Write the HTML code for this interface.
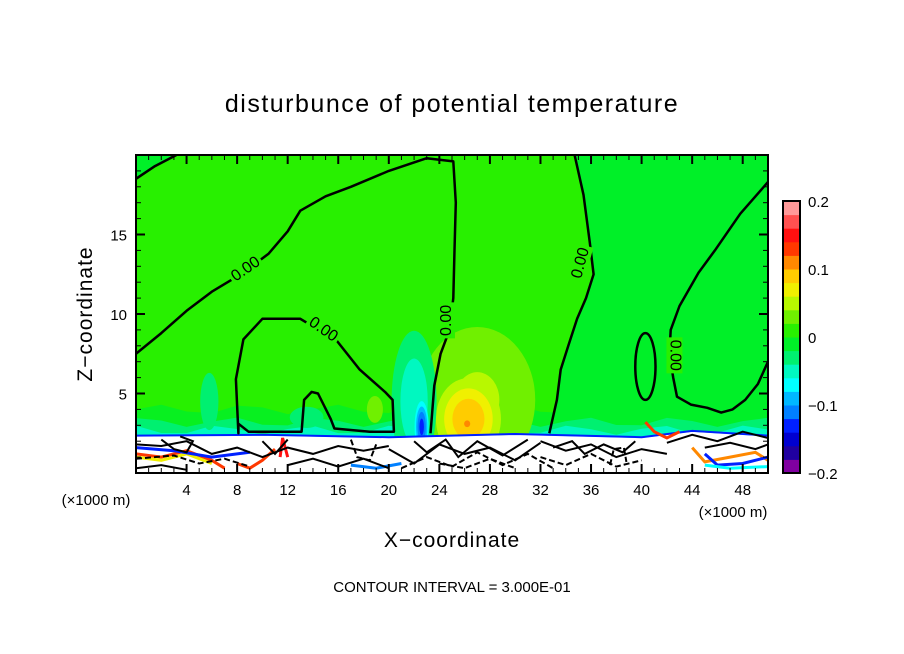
<!DOCTYPE html>
<html><head><meta charset="utf-8">
<style>
html,body{margin:0;padding:0;background:#fff;}
svg{display:block;font-family:"Liberation Sans",sans-serif;}
</style></head>
<body>
<svg id="chart" width="904" height="654" viewBox="0 0 904 654">
<defs><clipPath id="plotclip"><rect x="136" y="155" width="632" height="318"/></clipPath>
<clipPath id="aboveclip"><rect x="136" y="155" width="632" height="283"/></clipPath></defs>
<text x="452" y="112" text-anchor="middle" font-size="25" letter-spacing="1.5">disturbunce of potential temperature</text>
<g id="plot" clip-path="url(#plotclip)"></g>
<rect x="136" y="155" width="632" height="318" fill="none" stroke="#000" stroke-width="2"/>
<g id="axes"></g>
<g id="cbar"></g>
<text transform="translate(92,314) rotate(-90)" text-anchor="middle" font-size="21" letter-spacing="1">Z−coordinate</text>
<text x="452" y="547" text-anchor="middle" font-size="21" letter-spacing="1">X−coordinate</text>
<text x="96" y="505" text-anchor="middle" font-size="15">(×1000 m)</text>
<text x="733" y="517" text-anchor="middle" font-size="15">(×1000 m)</text>
<text x="452" y="592" text-anchor="middle" font-size="15">CONTOUR INTERVAL = 3.000E-01</text>
</svg>
<script>
const xTicks=[4,8,12,16,20,24,28,32,36,40,44,48];
const zTicks=[5,10,15];
const cbTicks=[0.2,0.1,0,-0.1,-0.2];
const cbLabels=["0.2","0.1","0","−0.1","−0.2"];
const levelColors=["#8000a0","#2000a0","#0000d0","#0020ff","#0080ff","#00b8ff","#00ffff","#00f8c0","#00f070","#00f028","#28f000","#70f000","#b8f800","#f0f000","#ffcc00","#ff8800","#ff3800","#ff1010","#ff5050","#ff9999"];
// anomaly blobs: x, z, amplitude, rx, rz, minimum drawn level magnitude
const blobX=[27.0,26.3,26.2,22.0,22.6,18.9,5.8,13.5,30.5];
const blobZ=[4.6,3.4,3.1,4.5,2.9,4.0,4.5,3.5,3.5];
const blobAmp=[0.045,0.1,0.12,-0.06,-0.13,0.035,-0.03,-0.025,0.03];
const blobRX=[3.6,1.9,0.4,1.2,0.45,0.6,0.8,2.0,1.0];
const blobRZ=[3.6,1.9,0.35,3.0,1.3,0.8,2.0,1.0,1.0];
const blobMin=[0.02,0.04,0.1,0.02,0.06,0.02,0.02,0.02,0.02];
// zero-contours (x, z) in data units
const contourA=[[0,7.5],[2,8.8],[4,10.2],[6,11.4],[8.5,12.6],[10.5,13.8],[12,15.2],[13,16.5],[15,17.4],[17,18],[20,19],[23,19.8],[25.1,19.6],[25.3,17],[25.2,14],[25.1,11],[24.8,9],[24.1,7.5],[23.6,5.5],[23.4,3.5],[23.3,2.5]];
const contourB=[[0,18.5],[1.5,19.3],[3.2,20]];
const contourC=[[8.1,2.5],[7.9,5.9],[8.5,8.4],[10,9.7],[13,9.7],[15.9,8.3],[17.7,6.5],[19.7,5.1],[20.3,4.6],[20.4,2.6],[18.5,2.6],[15.7,2.8],[15.4,3.4],[14.4,5.0],[13.9,5.1],[13.3,4.6],[13.1,2.6],[11.2,2.6],[8.9,2.6],[8.1,3.1]];
const contourD=[[34.7,20],[35.4,17.5],[35.9,14.5],[36.2,12.5],[35.6,11],[34.9,9.7],[34.2,8],[33.6,6.5],[33.3,4.6],[32.7,2.5]];
const contourE=[[50,18.3],[47.8,16.3],[45.8,14],[44.5,12.6],[43,10.5],[42.3,9],[42.2,7.5],[42.5,6],[42.8,4.8],[43.9,4.3],[45.2,4.1],[46.3,3.8],[47.2,4.0],[48.2,4.6],[49.2,5.6],[50,7]];
const ellipseF=[40.3,6.7,0.8,2.1];
const lowLines=[
 [[0,1.8],[2,1.7],[4,2.0],[6,1.2],[8,1.6],[10,1.0],[12,1.6],[14,1.2],[16,1.7],[18,1.4],[20,1.7]],
 [[0,0.9],[3,1.1],[5,0.6],[7,0.9],[9,0.4]],
 [[20,1.5],[22,0.6],[24,1.8],[26,1.2],[28,1.6],[30,0.8],[32,1.9]],
 [[32,2.0],[34,1.4],[36,1.8],[38,1.0],[40,1.5],[42,1.2]],
 [[32,1.0],[34,0.5],[36,1.2],[38,0.4],[40,0.8]],
 [[42,1.9],[44,2.4],[46,2.0],[48,2.6],[50,2.2]],
 [[12,0.5],[14,0.9],[16,0.4],[18,0.9],[20,0.3]],
 [[24,0.6],[26,0.3],[28,0.9],[30,0.3]],
 [[2,2.1],[3,1.5],[4,1.3],[4.5,2.0],[3.5,2.3]],
 [[10,2.0],[11,1.2],[12,2.1]],
 [[17,2.1],[17.5,1.0],[18.5,0.8],[19,1.8]],
 [[22,2.0],[23,1.3],[24.5,2.1],[25.5,1.0],[27,2.0],[29,1.1],[31,2.1]],
 [[33,1.6],[34.5,2.0],[35.5,1.2],[37,1.8],[38.5,1.3],[39.5,2.0]],
 [[37.5,0.5],[37.8,1.5],[38.6,1.6],[38.8,0.7]],
 [[45,1.6],[47,1.9],[49,1.5],[50,1.8]],
 [[0,0.3],[2,0.5],[4,0.2]],
 [[21,0.3],[23,1.0],[25,0.4],[27,1.3],[29,0.5],[31,1.2],[33,0.3]]];
const colorLines=[
 {c:"#ff3800",p:[[0,1.2],[2,1.0],[4,1.4],[6,0.8],[7,0.3]]},
 {c:"#f0f000",p:[[0,1.0],[2,0.8],[4,1.2],[6,0.6]]},
 {c:"#0020ff",p:[[0,1.6],[3,1.4],[6,1.0],[9,1.3]]},
 {c:"#ff3800",p:[[8,0.6],[9,0.3],[10,0.8],[11,1.5]]},
 {c:"#ff1010",p:[[11.4,1.0],[11.6,2.2],[12,1.0]]},
 {c:"#0080ff",p:[[17,0.5],[19,0.3],[21,0.6]]},
 {c:"#ff8800",p:[[44,1.6],[45,0.7],[47,1.0],[49,1.3],[50,0.8]]},
 {c:"#0020ff",p:[[45,1.2],[46,0.5],[48,0.6],[50,1.0]]},
 {c:"#00ffff",p:[[45,0.5],[47,0.3],[50,0.4]]},
 {c:"#ff3800",p:[[40.3,3.2],[41,2.6],[42,2.2],[43,2.6]]}];

const NS="http://www.w3.org/2000/svg";
const X0=136,X1=768,Y0=473,Y1=155;
const sx=x=>X0+(x/50)*(X1-X0);
const sz=z=>Y0-(z/20)*(Y0-Y1);
const cIndex=v=>Math.max(0,Math.min(19,Math.floor((v+0.2)/0.02+1e-9)));
function mk(tag,attrs,parent){const e=document.createElementNS(NS,tag);for(const k in attrs)e.setAttribute(k,attrs[k]);parent.appendChild(e);return e;}
const plot=document.getElementById('plot');
const path=pts=>pts.map((p,i)=>(i?'L':'M')+sx(p[0]).toFixed(1)+','+sz(p[1]).toFixed(1)).join('');

let bg=mk('rect',{x:X0,y:Y1,width:X1-X0,height:Y0-Y1,fill:levelColors[cIndex(0.01)]},plot);


let neg1=mk('path',{d:path(contourD.concat([[50,2.5],[50,20]]))+'Z',fill:levelColors[cIndex(-0.01)]},plot);


let neg2=mk('path',{d:path(contourB.concat([[0,20]]))+'Z',fill:levelColors[cIndex(-0.01)]},plot);


const layerTop=[4.0,3.2,2.7];
const layerVal=[-0.01,-0.03,-0.05];
layerTop.forEach((t,i)=>{
 const pts=[];for(let x=0;x<=50;x+=2){pts.push([x,t+0.3*Math.sin(x*0.9+i)]);}
 let l=mk('path',{d:path([[0,0]].concat(pts,[[50,0]]))+'Z',fill:levelColors[cIndex(layerVal[i])],opacity:i==0?0.8:1},plot);
 
 
});
const bg2=mk('g',{'clip-path':'url(#aboveclip)'},plot);
blobX.forEach((bx,i)=>{
 const A=blobAmp[i];const g=mk('g',{},bg2);
 
 
 const s=A>0?1:-1;
 for(let L=blobMin[i]*s;Math.abs(L)<Math.abs(A);L+=0.02*s){
  const r=Math.sqrt(2*Math.log(A/L));
  const v=L+0.01*s;
  mk('ellipse',{cx:sx(bx),cy:sz(blobZ[i]),rx:blobRX[i]*r*(X1-X0)/50,ry:blobRZ[i]*r*(Y0-Y1)/20,fill:levelColors[cIndex(v)]},g);
 }
});
let wb=mk('path',{d:path([[0,0],[0,2.3],[10,2.35],[20,2.2],[30,2.4],[40,2.2],[44,2.6],[50,2.3],[50,0]])+'Z',fill:'#fff'},plot);


let bl=mk('path',{d:path([[0,2.35],[10,2.4],[20,2.25],[30,2.45],[40,2.25],[44,2.65],[50,2.35]]),fill:'none',stroke:'#0020ff','stroke-width':2},plot);


colorLines.forEach((cl,i)=>{
 let e=mk('path',{d:path(cl.p),fill:'none',stroke:cl.c,'stroke-width':3},plot);
 
 
});
lowLines.forEach((ln,i)=>{
 let e=mk('path',{d:path(ln),fill:'none',stroke:'#000','stroke-width':2,'stroke-dasharray':i%3==1?'6,3':'none'},plot);
 
 
});
[[contourA,'contour-a',false],[contourB,'contour-b',false],[contourC,'contour-c',true],[contourD,'contour-d',false],[contourE,'contour-e',false]].forEach(c=>{
 let e=mk('path',{d:path(c[0])+(c[2]?'Z':''),fill:'none',stroke:'#000','stroke-width':2.5,'stroke-linejoin':'round'},plot);
 
 
});
let ef=mk('ellipse',{cx:sx(ellipseF[0]),cy:sz(ellipseF[1]),rx:ellipseF[2]*(X1-X0)/50,ry:ellipseF[3]*(Y0-Y1)/20,fill:'none',stroke:'#000','stroke-width':2.5},plot);


const labs=[[8.7,12.8,-35],[14.8,9.0,35],[24.6,9.6,-90],[35.2,13.2,-75],[42.6,7.4,90]];
labs.forEach((l,i)=>{
 mk('rect',{x:sx(l[0])-18,y:sz(l[1])-8,width:36,height:16,fill:levelColors[10],transform:`rotate(${l[2]} ${sx(l[0])} ${sz(l[1])})`},plot);
 let t=mk('text',{x:sx(l[0]),y:sz(l[1]),'font-size':16,'text-anchor':'middle','dominant-baseline':'middle',transform:`rotate(${l[2]} ${sx(l[0])} ${sz(l[1])})`,fill:'#000'},plot);
 t.textContent='0.00';
 
 
});
const ax=document.getElementById('axes');


for(let x=1;x<50;x++){const big=x%4==0;const len=big?9:5;
 mk('line',{x1:sx(x),x2:sx(x),y1:Y0,y2:Y0-len,stroke:'#000','stroke-width':big?2:1},ax);
 mk('line',{x1:sx(x),x2:sx(x),y1:Y1,y2:Y1+len,stroke:'#000','stroke-width':big?2:1},ax);}
for(let z=1;z<20;z++){const big=z%5==0;const len=big?9:5;
 mk('line',{x1:X0,x2:X0+len,y1:sz(z),y2:sz(z),stroke:'#000','stroke-width':big?2:1},ax);
 mk('line',{x1:X1,x2:X1-len,y1:sz(z),y2:sz(z),stroke:'#000','stroke-width':big?2:1},ax);}
xTicks.forEach(v=>{let t=mk('text',{x:sx(v),y:495,'text-anchor':'middle','font-size':15},ax);t.textContent=v;
 
 });
zTicks.forEach(v=>{let t=mk('text',{x:127,y:sz(v)+6,'text-anchor':'end','font-size':15},ax);t.textContent=v;
 
 });
const cb=document.getElementById('cbar');
const CB0=473,CB1=201,cbY=v=>CB0-(v+0.2)/0.4*(CB0-CB1);
levelColors.forEach((c,i)=>{const v=-0.2+i*0.02;
 let r=mk('rect',{x:783,y:cbY(v+0.02),width:17,height:cbY(v)-cbY(v+0.02)+0.5,fill:c},cb);
 
 });
mk('rect',{x:783,y:CB1,width:17,height:CB0-CB1,fill:'none',stroke:'#000','stroke-width':2},cb);
cbTicks.forEach((v,i)=>{let t=mk('text',{x:808,y:cbY(v)+6,'font-size':15},cb);t.textContent=cbLabels[i];
 
 });
</script>
</body></html>
